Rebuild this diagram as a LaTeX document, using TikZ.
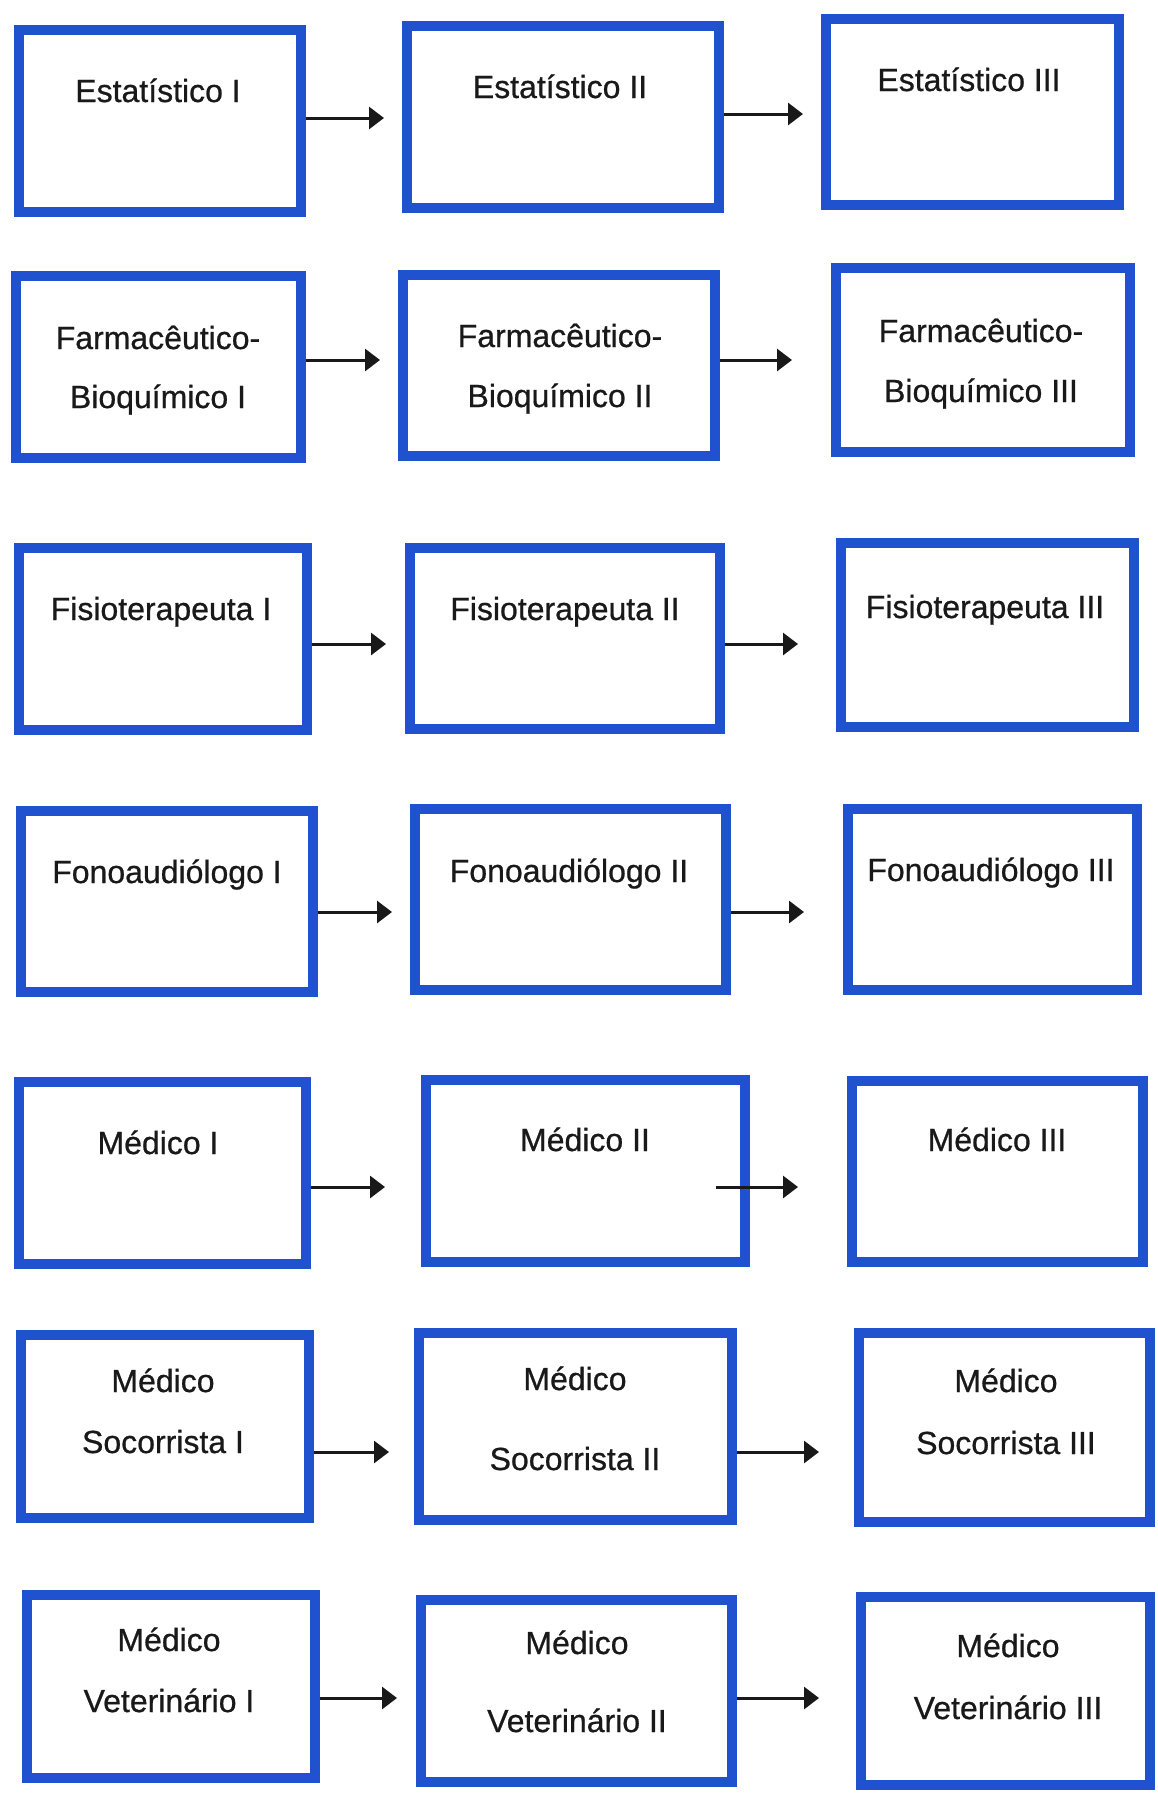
\documentclass[tikz,border=0pt]{standalone}
\usepackage{fontspec}
\setmainfont{Liberation Sans}
\newfontfamily\cartaz{Liberation Sans}[FakeBold=0.7]
\usetikzlibrary{arrows.meta}
\definecolor{boxblue}{RGB}{32,82,208}
\definecolor{ink}{RGB}{25,25,25}
\tikzset{
	cargo/.style={draw=boxblue, line width=10pt, fill=white, inner sep=0pt},
	rotulo/.style={text=ink, anchor=base, inner sep=0pt, font=\cartaz\fontsize{32}{38}\selectfont},
	passo/.style={draw=ink, line width=3pt, -{Triangle[length=15pt,width=22pt]}},
}

\begin{document}
\begin{tikzpicture}[x=1pt, y=-1pt]
	\useasboundingbox[fill=white] (0,0) rectangle (1158,1793);
	% Estatistico
	\node[cargo, minimum width=282, minimum height=182] (est1) at (160,121) {};
	\node[cargo, minimum width=312, minimum height=182] (est2) at (563,117) {};
	\node[cargo, minimum width=293, minimum height=186] (est3) at (972.5,112) {};
	\node[rotulo] (est1t) at (158,102) {Estatístico I};
	\node[rotulo] (est2t) at (560,98) {Estatístico II};
	\node[rotulo] (est3t) at (969,91) {Estatístico III};
	\coordinate (est12) at (384,118);
	\coordinate (est23) at (803,114);
	\draw[passo] (est1.east |- est12) -- (est12);
	\draw[passo] (est2.east |- est23) -- (est23);
	% Farmaceutico-Bioquimico
	\node[cargo, minimum width=285, minimum height=182] (farm1) at (158.5,367) {};
	\node[cargo, minimum width=312, minimum height=181] (farm2) at (559,365.5) {};
	\node[cargo, minimum width=294, minimum height=184] (farm3) at (983,360) {};
	\node[rotulo] (farm1a) at (158,349) {Farmacêutico-};
	\node[rotulo] (farm1b) at (158,408) {Bioquímico I};
	\node[rotulo] (farm2a) at (560,347) {Farmacêutico-};
	\node[rotulo] (farm2b) at (560,407) {Bioquímico II};
	\node[rotulo] (farm3a) at (981,342) {Farmacêutico-};
	\node[rotulo] (farm3b) at (981,402) {Bioquímico III};
	\coordinate (farm12) at (380,360);
	\coordinate (farm23) at (792,360);
	\draw[passo] (farm1.east |- farm12) -- (farm12);
	\draw[passo] (farm2.east |- farm23) -- (farm23);
	% Fisioterapeuta
	\node[cargo, minimum width=288, minimum height=182] (fis1) at (163,639) {};
	\node[cargo, minimum width=310, minimum height=181] (fis2) at (565,638.5) {};
	\node[cargo, minimum width=293, minimum height=184] (fis3) at (987.5,635) {};
	\node[rotulo] (fis1t) at (161,620) {Fisioterapeuta I};
	\node[rotulo] (fis2t) at (565,620) {Fisioterapeuta II};
	\node[rotulo] (fis3t) at (985,618) {Fisioterapeuta III};
	\coordinate (fis12) at (386,644);
	\coordinate (fis23) at (798,644);
	\draw[passo] (fis1.east |- fis12) -- (fis12);
	\draw[passo] (fis2.east |- fis23) -- (fis23);
	% Fonoaudiologo
	\node[cargo, minimum width=292, minimum height=181] (fono1) at (167,901.5) {};
	\node[cargo, minimum width=311, minimum height=181] (fono2) at (570.5,899.5) {};
	\node[cargo, minimum width=289, minimum height=181] (fono3) at (992.5,899.5) {};
	\node[rotulo] (fono1t) at (167,883) {Fonoaudiólogo I};
	\node[rotulo] (fono2t) at (569,882) {Fonoaudiólogo II};
	\node[rotulo] (fono3t) at (991,881) {Fonoaudiólogo III};
	\coordinate (fono12) at (392,912);
	\coordinate (fono23) at (804,912);
	\draw[passo] (fono1.east |- fono12) -- (fono12);
	\draw[passo] (fono2.east |- fono23) -- (fono23);
	% Medico
	\node[cargo, minimum width=287, minimum height=182] (med1) at (162.5,1173) {};
	\node[cargo, minimum width=319, minimum height=182] (med2) at (585.5,1171) {};
	\node[cargo, minimum width=291, minimum height=181] (med3) at (997.5,1171.5) {};
	\node[rotulo] (med1t) at (158,1154) {Médico I};
	\node[rotulo] (med2t) at (585,1151) {Médico II};
	\node[rotulo] (med3t) at (997,1151) {Médico III};
	\coordinate (med12) at (385,1187);
	\coordinate (med2s) at (716,1187);
	\coordinate (med23) at (798,1187);
	\draw[passo] (med1.east |- med12) -- (med12);
	\draw[passo] (med2s) -- (med23);
	% Medico Socorrista
	\node[cargo, minimum width=288, minimum height=183] (soc1) at (165,1426.5) {};
	\node[cargo, minimum width=313, minimum height=187] (soc2) at (575.5,1426.5) {};
	\node[cargo, minimum width=291, minimum height=189] (soc3) at (1004.5,1427.5) {};
	\node[rotulo] (soc1a) at (163,1392) {Médico};
	\node[rotulo] (soc1b) at (163,1453) {Socorrista I};
	\node[rotulo] (soc2a) at (575,1390) {Médico};
	\node[rotulo] (soc2b) at (575,1470) {Socorrista II};
	\node[rotulo] (soc3a) at (1006,1392) {Médico};
	\node[rotulo] (soc3b) at (1006,1454) {Socorrista III};
	\coordinate (soc12) at (389,1452);
	\coordinate (soc23) at (819,1452);
	\draw[passo] (soc1.east |- soc12) -- (soc12);
	\draw[passo] (soc2.east |- soc23) -- (soc23);
	% Medico Veterinario
	\node[cargo, minimum width=288, minimum height=183] (vet1) at (171,1686.5) {};
	\node[cargo, minimum width=311, minimum height=182] (vet2) at (576.5,1691) {};
	\node[cargo, minimum width=289, minimum height=188] (vet3) at (1005.5,1691) {};
	\node[rotulo] (vet1a) at (169,1651) {Médico};
	\node[rotulo] (vet1b) at (169,1712) {Veterinário I};
	\node[rotulo] (vet2a) at (577,1654) {Médico};
	\node[rotulo] (vet2b) at (577,1732) {Veterinário II};
	\node[rotulo] (vet3a) at (1008,1657) {Médico};
	\node[rotulo] (vet3b) at (1008,1719) {Veterinário III};
	\coordinate (vet12) at (397,1698);
	\coordinate (vet23) at (819,1698);
	\draw[passo] (vet1.east |- vet12) -- (vet12);
	\draw[passo] (vet2.east |- vet23) -- (vet23);
\end{tikzpicture}
\end{document}
